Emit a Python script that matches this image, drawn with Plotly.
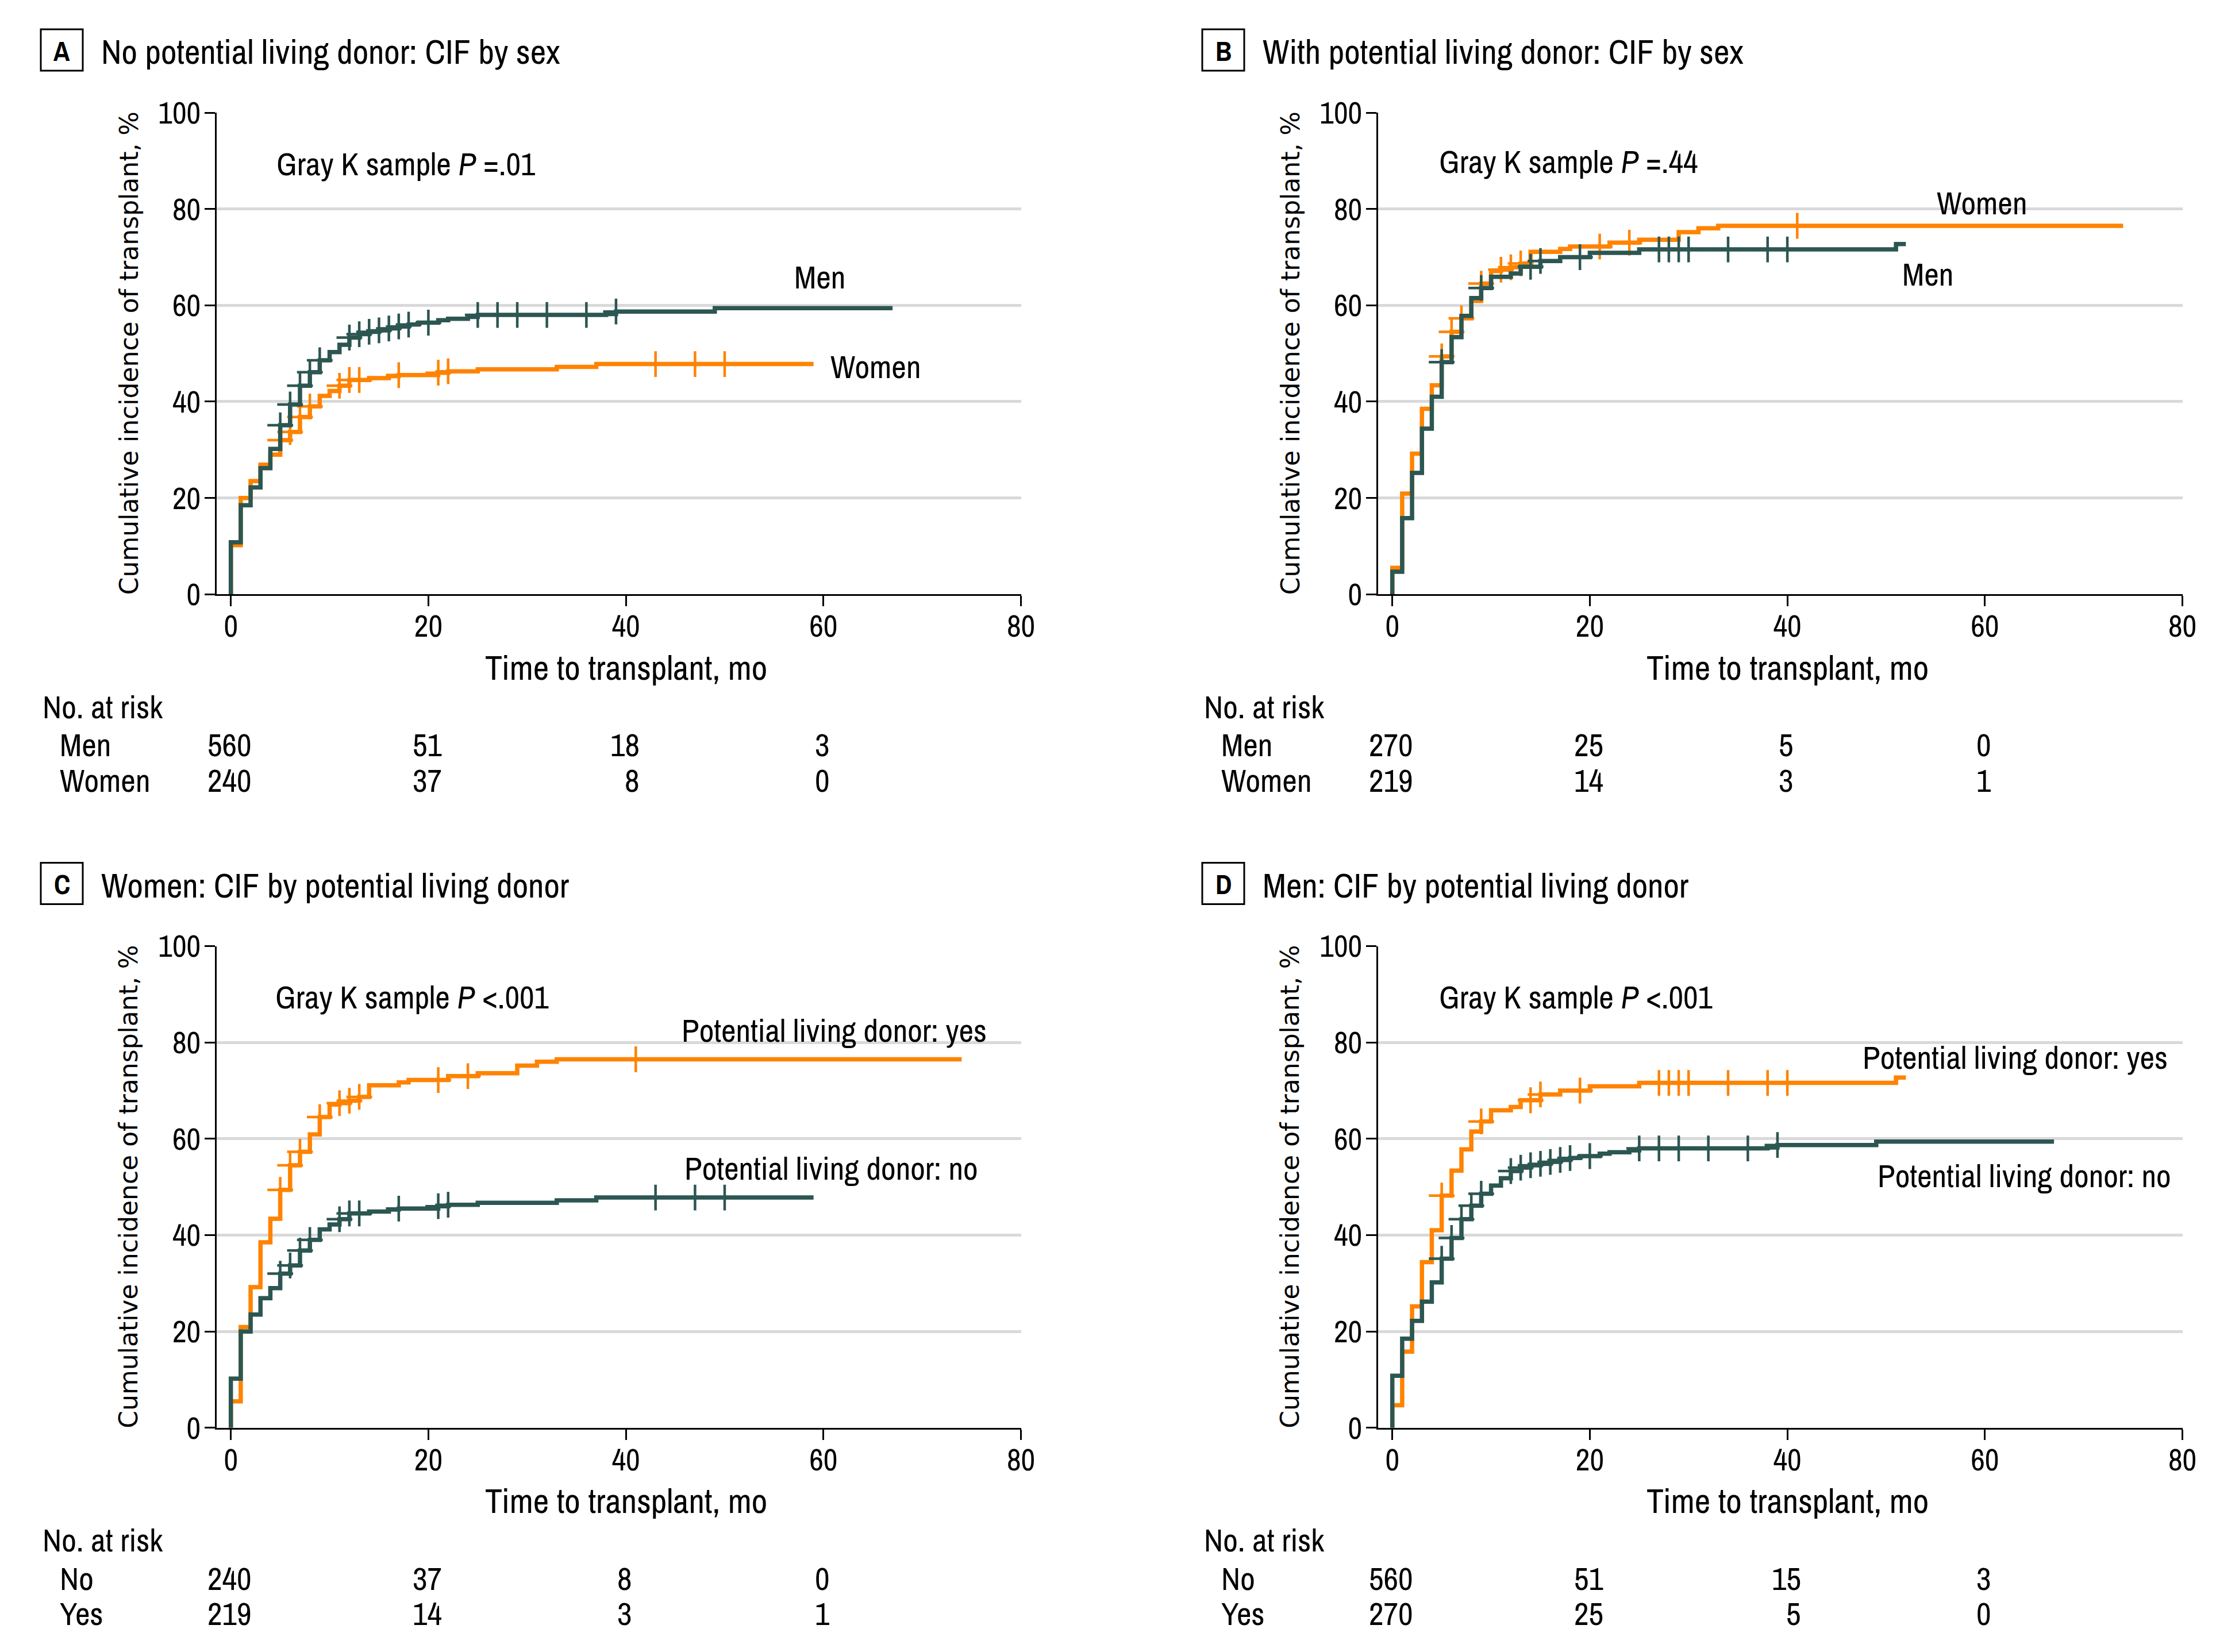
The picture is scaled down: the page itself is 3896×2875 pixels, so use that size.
import numpy as np
import plotly.graph_objects as go

W, H = 3896, 2875

# ---------------- data ----------------
x_ticks = [0, 20, 40, 60, 80]
y_ticks = [0, 20, 40, 60, 80, 100]
risk_times = [0, 20, 40, 60]

# Men, no potential living donor (panel A men / panel D no)
men_no_t = [0, 0, 1, 2, 3, 4, 5, 6, 7, 8, 9, 10, 11, 12, 13, 14, 15, 16, 17, 18,
            19, 21, 22, 24, 25, 38, 39, 49, 67]
men_no_v = [0, 10.8, 18.5, 22.2, 26.2, 30.2, 35.1, 39.4, 43.3, 46.1, 48.6, 50.3, 51.8,
            53.3, 54.0, 54.5, 54.8, 55.2, 55.6, 56.0, 56.4, 56.9, 57.2, 57.6, 58.0,
            58.2, 58.7, 59.4, 59.4]
men_no_cens = [5, 6, 7, 8, 9, 12, 13, 14, 15, 16, 17, 18, 20, 25, 27, 29, 32, 36, 39]

# Women, no potential living donor (panel A women / panel C no)
women_no_t = [0, 0, 1, 2, 3, 4, 5, 6, 7, 8, 9, 10, 11, 12, 14, 16, 17, 21, 22, 25,
              33, 37, 59]
women_no_v = [0, 10.2, 20.0, 23.5, 26.9, 29.0, 32.0, 33.7, 36.8, 39.0, 41.2, 42.2,
              43.3, 44.5, 44.9, 45.3, 45.5, 46.0, 46.3, 46.7, 47.2, 47.8, 47.8]
women_no_cens = [5, 6, 7, 8, 11, 12, 13, 17, 21, 22, 43, 47, 50]

# Women, with potential living donor (panel B women / panel C yes)
women_yes_t = [0, 0, 1, 2, 3, 4, 5, 6, 7, 8, 9, 10, 11, 12, 13, 14, 17, 18, 22, 25,
               29, 31, 33, 74]
women_yes_v = [0, 5.5, 20.9, 29.2, 38.5, 43.4, 49.4, 54.5, 57.3, 60.9, 64.5, 67.1,
               67.4, 67.9, 68.7, 71.1, 71.7, 72.2, 73.0, 73.6, 75.2, 76.0, 76.5, 76.5]
women_yes_cens = [5, 6, 7, 9, 11, 12, 13, 21, 24, 41]

# Men, with potential living donor (panel B men / panel D yes)
men_yes_t = [0, 0, 1, 2, 3, 4, 5, 6, 7, 8, 9, 10, 12, 13, 15, 17, 20, 25, 51, 52]
men_yes_v = [0, 4.7, 15.8, 25.2, 34.4, 41.0, 48.2, 53.4, 57.8, 61.5, 63.6, 65.9,
             66.6, 68.0, 69.2, 70.0, 70.9, 71.6, 72.7, 72.7]
men_yes_cens = [5, 9, 14, 15, 19, 27, 28, 29, 30, 34, 38, 40]

# Numbers at risk
risk_a_men = [560, 51, 18, 3]
risk_a_women = [240, 37, 8, 0]
risk_b_men = [270, 25, 5, 0]
risk_b_women = [219, 14, 3, 1]
risk_c_no = [240, 37, 8, 0]
risk_c_yes = [219, 14, 3, 1]
risk_d_no = [560, 51, 15, 3]
risk_d_yes = [270, 25, 5, 0]

# ---------------- styling ----------------
DARK = "#2c5652"
ORANGE = "#ff8300"
GRID = "#d9d9d9"
COND = "Archivo Narrow, Asap Condensed, Liberation Sans Narrow, sans-serif"
WIDE = "DejaVu Sans, Verdana, sans-serif"
FS = 56
TFS = 54

X0PX, X80PX = 401.7, 1776.5        # panel A x=0 and x=80 in pixels
AXLPX = 377.0                      # y-axis line
Y0PX, Y100PX = 1034.3, 196.0       # panel A y=0 and y=100
DX, DY = 2021.0, 1450.5            # offsets of the right / lower panels
PPU = (X80PX - X0PX) / 80.0
XMIN = -(X0PX - AXLPX) / PPU


def pxx(x):
    return x / W


def pxy(y):
    return 1 - y / H


def step_at(t_arr, v_arr, t):
    t_arr = np.asarray(t_arr, dtype=float)
    v_arr = np.asarray(v_arr, dtype=float)
    idx = np.searchsorted(t_arr, np.asarray(t, dtype=float), side="right") - 1
    return v_arr[idx]


panels = [
    dict(letter="A", title="No potential living donor: CIF by sex", dx=0, dy=0,
         p="=.01", gpos=(4.5, 89.5),
         curves=[(women_no_t, women_no_v, women_no_cens, ORANGE),
                 (men_no_t, men_no_v, men_no_cens, DARK)],
         labels=[("Men", 56.9, 66.0), ("Women", 60.6, 47.3)],
         risk=[("Men", risk_a_men), ("Women", risk_a_women)]),
    dict(letter="B", title="With potential living donor: CIF by sex", dx=DX, dy=0,
         p="=.44", gpos=(4.6, 89.9),
         curves=[(women_yes_t, women_yes_v, women_yes_cens, ORANGE),
                 (men_yes_t, men_yes_v, men_yes_cens, DARK)],
         labels=[("Women", 55.0, 81.3), ("Men", 51.5, 66.5)],
         risk=[("Men", risk_b_men), ("Women", risk_b_women)]),
    dict(letter="C", title="Women: CIF by potential living donor", dx=0, dy=DY,
         p="&lt;.001", gpos=(4.4, 89.5),
         curves=[(women_yes_t, women_yes_v, women_yes_cens, ORANGE),
                 (women_no_t, women_no_v, women_no_cens, DARK)],
         labels=[("Potential living donor: yes", 45.5, 82.6),
                 ("Potential living donor: no", 45.8, 53.9)],
         risk=[("No", risk_c_no), ("Yes", risk_c_yes)]),
    dict(letter="D", title="Men: CIF by potential living donor", dx=DX, dy=DY,
         p="&lt;.001", gpos=(4.6, 89.5),
         curves=[(men_yes_t, men_yes_v, men_yes_cens, ORANGE),
                 (men_no_t, men_no_v, men_no_cens, DARK)],
         labels=[("Potential living donor: yes", 47.5, 77.0),
                 ("Potential living donor: no", 49.0, 52.4)],
         risk=[("No", risk_d_no), ("Yes", risk_d_yes)]),
]

fig = go.Figure()
annotations = []
shapes = []
layout_axes = {}

for i, pnl in enumerate(panels):
    n = "" if i == 0 else str(i + 1)
    xa, ya = "x" + n, "y" + n
    dx, dy = pnl["dx"], pnl["dy"]

    layout_axes["xaxis" + n] = dict(
        domain=[pxx(AXLPX + dx), pxx(X80PX + dx)], range=[XMIN, 80], anchor=ya,
        tickmode="array", tickvals=x_ticks, ticks="outside", ticklen=18, tickwidth=3,
        tickcolor="black", showline=True, linecolor="black", linewidth=3,
        showgrid=False, zeroline=False, fixedrange=True, automargin=False,
        ticklabelstandoff=-12,
        tickfont=dict(family=COND, size=TFS, color="black"))
    layout_axes["yaxis" + n] = dict(
        domain=[pxy(Y0PX + dy), pxy(Y100PX + dy)], range=[0, 100], anchor=xa,
        tickmode="array", tickvals=y_ticks, ticks="outside", ticklen=18, tickwidth=3,
        tickcolor="black", showline=True, linecolor="black", linewidth=3,
        showgrid=True, gridcolor=GRID, gridwidth=4.5, zeroline=False, fixedrange=True,
        automargin=False, ticklabelstandoff=-4,
        tickfont=dict(family=COND, size=TFS, color="black"))

    for (t, v, cens, col) in pnl["curves"]:
        fig.add_trace(go.Scatter(x=t, y=v, xaxis=xa, yaxis=ya, mode="lines",
                                 line=dict(color=col, width=7.5, shape="hv"),
                                 hoverinfo="skip", showlegend=False))
        fig.add_trace(go.Scatter(x=cens, y=step_at(t, v, cens), xaxis=xa, yaxis=ya,
                                 mode="markers", cliponaxis=False,
                                 marker=dict(symbol="cross-thin", size=32,
                                             line=dict(color=col, width=4.5)),
                                 hoverinfo="skip", showlegend=False))

    # panel letter box + title
    shapes.append(dict(type="rect", xref="paper", yref="paper",
                       x0=pxx(71 + dx), x1=pxx(144 + dx),
                       y0=pxy(123 + dy), y1=pxy(51 + dy),
                       line=dict(color="black", width=3), fillcolor="white"))
    annotations.append(dict(xref="paper", yref="paper", x=pxx(107.5 + dx), y=pxy(88 + dy),
                            text="<b>%s</b>" % pnl["letter"], showarrow=False,
                            xanchor="center", yanchor="middle",
                            font=dict(family=COND, size=48, color="black")))
    annotations.append(dict(xref="paper", yref="paper", x=pxx(174 + dx), y=pxy(90 + dy),
                            text=pnl["title"], showarrow=False,
                            xanchor="left", yanchor="middle",
                            font=dict(family=COND, size=60, color="black")))

    # Gray test
    gx, gy = pnl["gpos"]
    annotations.append(dict(xref=xa, yref=ya, x=gx, y=gy,
                            text="Gray K sample <i>P</i> %s" % pnl["p"], showarrow=False,
                            xanchor="left", yanchor="middle",
                            font=dict(family=COND, size=FS, color="black")))
    # curve labels
    for (txt, lx, ly) in pnl["labels"]:
        annotations.append(dict(xref=xa, yref=ya, x=lx, y=ly, text=txt, showarrow=False,
                                xanchor="left", yanchor="middle",
                                font=dict(family=COND, size=FS, color="black")))

    # axis titles
    annotations.append(dict(xref="paper", yref="paper", x=pxx(224 + dx),
                            y=pxy((Y0PX + Y100PX) / 2 + dy),
                            text="Cumulative incidence of transplant, %", textangle=-90,
                            showarrow=False, xanchor="center", yanchor="middle",
                            font=dict(family=WIDE, size=44, color="black")))
    annotations.append(dict(xref=xa, yref="paper", x=40, y=pxy(1161 + dy),
                            text="Time to transplant, mo", showarrow=False,
                            xanchor="center", yanchor="middle",
                            font=dict(family=COND, size=60, color="black")))

    # number at risk table
    annotations.append(dict(xref="paper", yref="paper", x=pxx(72 + dx), y=pxy(1229 + dy),
                            text="No. at risk", showarrow=False, xanchor="left",
                            yanchor="middle", font=dict(family=COND, size=FS, color="black")))
    row_y = [1296, 1357]
    for r, (lab, vals) in enumerate(pnl["risk"]):
        annotations.append(dict(xref="paper", yref="paper", x=pxx(102 + dx),
                                y=pxy(row_y[r] + dy), text=lab, showarrow=False,
                                xanchor="left", yanchor="middle",
                                font=dict(family=COND, size=FS, color="black")))
    for c, tt in enumerate(risk_times):
        maxlen = max(len(str(vals[c])) for _, vals in pnl["risk"])
        for r, (lab, vals) in enumerate(pnl["risk"]):
            annotations.append(dict(xref=xa, yref="paper", x=tt, y=pxy(row_y[r] + dy),
                                    text=str(vals[c]), showarrow=False,
                                    xanchor="right", yanchor="middle",
                                    xshift=maxlen * 0.456 * FS / 2,
                                    font=dict(family=COND, size=FS, color="black")))

fig.update_layout(width=W, height=H, margin=dict(l=0, r=0, t=0, b=0, pad=0),
                  autosize=False,
                  paper_bgcolor="white", plot_bgcolor="white", showlegend=False,
                  annotations=annotations, shapes=shapes, **layout_axes)

fig.write_html("out.html", config={"displayModeBar": False},
               post_script="document.body.style.margin='0px';"
                           "document.body.style.overflow='hidden';")
